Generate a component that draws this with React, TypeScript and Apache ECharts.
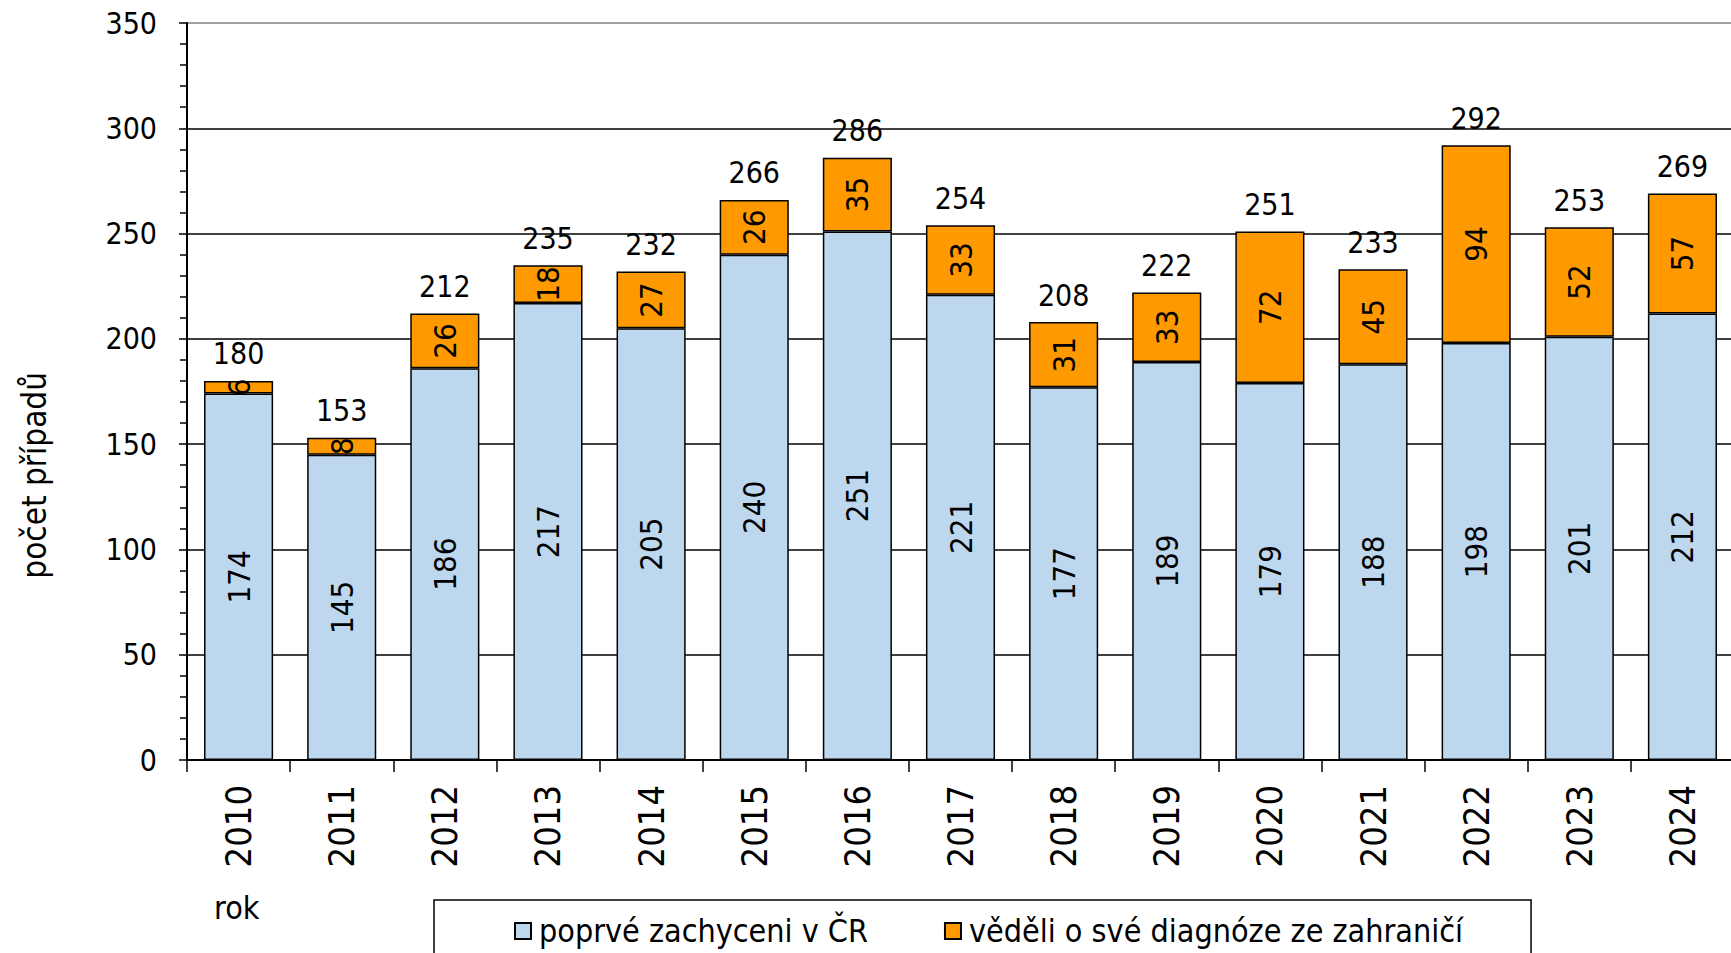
import React, { useEffect, useRef } from "react";
import * as echarts from "echarts";

const years = ["2010", "2011", "2012", "2013", "2014", "2015", "2016", "2017", "2018", "2019", "2020", "2021", "2022", "2023", "2024"];
const firstCaught = [174, 145, 186, 217, 205, 240, 251, 221, 177, 189, 179, 188, 198, 201, 212];
const knewAbroad = [6, 8, 26, 18, 27, 26, 35, 33, 31, 33, 72, 45, 94, 52, 57];
const totals = [180, 153, 212, 235, 232, 266, 286, 254, 208, 222, 251, 233, 292, 253, 269];
const yTicks = [0, 50, 100, 150, 200, 250, 300, 350];

const FONT = "'DejaVu Sans Condensed', 'DejaVu Sans', sans-serif";
const S1 = "poprvé zachyceni v ČR";
const S2 = "věděli o své diagnóze ze zahraničí";

export default function App() {
  const ref = useRef<HTMLDivElement>(null);
  useEffect(() => {
    if (!ref.current) return;
    const chart = echarts.init(ref.current, null, { renderer: "svg" });
    const gridColors = yTicks.map((v, i) => (i === yTicks.length - 1 ? "#808080" : "#000000"));
    chart.setOption({
      animation: false,
      backgroundColor: "#ffffff",
      textStyle: { fontFamily: FONT },
      grid: { left: 187, top: 23, bottom: 193, right: 6, containLabel: false },
      legend: {
        data: [S1, S2],
        left: 434,
        top: 900,
        orient: "horizontal",
        borderColor: "#000",
        borderWidth: 1.5,
        padding: [12, 68, 40, 80],
        itemWidth: 16,
        itemHeight: 16,
        itemGap: 76,
        icon: "rect",
        textStyle: { fontFamily: FONT, fontSize: 32, color: "#000", lineHeight: 38, padding: [0, 0, 0, 3] },
      },
      xAxis: {
        type: "category",
        data: years,
        axisLine: { lineStyle: { color: "#000", width: 2 } },
        axisTick: { show: true, length: 12, alignWithLabel: false, lineStyle: { color: "#000", width: 1.5 } },
        axisLabel: { rotate: 90, margin: 25, fontSize: 36, color: "#000", fontFamily: FONT },
      },
      yAxis: {
        type: "value",
        min: 0,
        max: 350,
        interval: 50,
        axisLine: { show: true, lineStyle: { color: "#000", width: 2 } },
        axisTick: { show: true, length: 8, lineStyle: { color: "#000", width: 1.5 } },
        minorTick: { show: true, splitNumber: 5, length: 7, lineStyle: { color: "#000", width: 1.5 } },
        splitLine: { show: true, lineStyle: { color: gridColors, width: 1.5 } },
        axisLabel: { margin: 30, fontSize: 30, color: "#000", fontFamily: FONT },
      },
      series: [
        {
          name: S1,
          type: "bar",
          stack: "total",
          data: firstCaught,
          barCategoryGap: "33%",
          itemStyle: { color: "#BDD7EE", borderColor: "#000", borderWidth: 1.5 },
          label: { show: true, position: "inside", rotate: 90, fontSize: 31, color: "#000", fontFamily: FONT },
        },
        {
          name: S2,
          type: "bar",
          stack: "total",
          data: knewAbroad,
          barCategoryGap: "33%",
          itemStyle: { color: "#FF9900", borderColor: "#000", borderWidth: 1.5 },
          label: { show: true, position: "inside", rotate: 90, fontSize: 31, color: "#000", fontFamily: FONT },
        },
        {
          name: "total",
          type: "scatter",
          data: totals,
          symbolSize: 0,
          silent: true,
          itemStyle: { opacity: 1, color: "#000" },
          label: { show: true, position: "top", distance: 12, fontSize: 30, color: "#000", opacity: 1, fontFamily: FONT },
        },
      ],
      graphic: [
        {
          type: "text",
          left: 18,
          top: 372,
          rotation: Math.PI / 2,
          style: { text: "počet případů", fill: "#000", font: `33px ${FONT}` },
        },
        {
          type: "text",
          x: 214,
          y: 892,
          style: { text: "rok", fill: "#000", font: `32px ${FONT}` },
        },
      ],
    });
    return () => chart.dispose();
  }, []);
  return <div ref={ref} style={{ position: "fixed", left: 0, top: 0, width: 1740, height: 953 }} />;
}
